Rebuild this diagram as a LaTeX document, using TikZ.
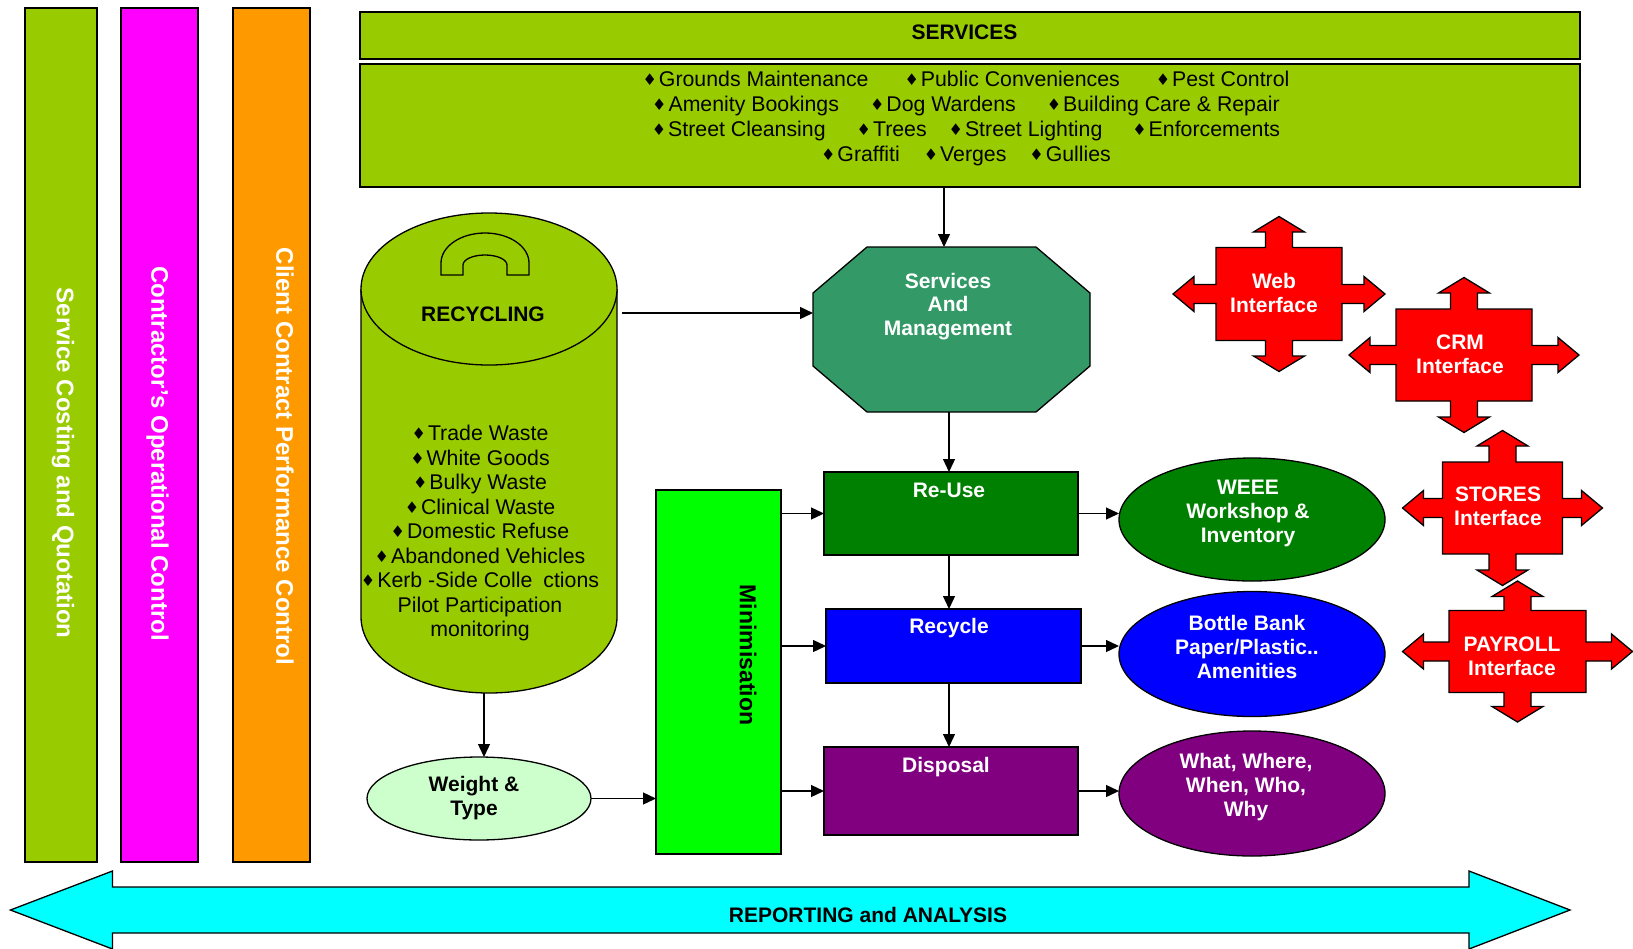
\documentclass[tikz,border=0pt]{standalone}
\usepackage{fontspec}
\setmainfont{Liberation Sans}
\newfontfamily\symfont{DejaVu Sans}
\usetikzlibrary{arrows.meta,calc,shapes.geometric}
\definecolor{cOlive}{HTML}{99CC00}
\definecolor{cMag}{HTML}{FF00FF}
\definecolor{cOrange}{HTML}{FF9900}
\definecolor{cSea}{HTML}{339966}
\definecolor{cGreen}{HTML}{008000}
\definecolor{cBlue}{HTML}{0000FF}
\definecolor{cPurple}{HTML}{800080}
\definecolor{cLime}{HTML}{00FF00}
\definecolor{cPale}{HTML}{CCFFCC}
\definecolor{cRed}{HTML}{FF0000}
\definecolor{cCyan}{HTML}{00FFFF}
\newcommand\bu{\raisebox{1pt}{\symfont\fontsize{16}{16}\selectfont ♦}\hspace{2pt}}
\newcommand\redcross[6]{%
  \filldraw[fill=cRed, line width=1.3pt, shift={(#1,#2)}]
  (0,#6) -- (25.5,#6-15.5) -- (13.5,#6-15.5) -- (13.5,#4) -- (#3,#4) -- (#3,9.5) -- (#5-21,9.5) -- (#5-21,17.5) -- (#5,0) -- (#5-21,-17.5) -- (#5-21,-9.5) -- (#3,-9.5) -- (#3,-#4) -- (13.5,-#4) -- (13.5,-#6+15.5) -- (25.5,-#6+15.5) -- (0,-#6) -- (-25.5,-#6+15.5) -- (-13.5,-#6+15.5) -- (-13.5,-#4) -- (-#3,-#4) -- (-#3,-9.5) -- (-#5+21,-9.5) -- (-#5+21,-17.5) -- (-#5,0) -- (-#5+21,17.5) -- (-#5+21,9.5) -- (-#3,9.5) -- (-#3,#4) -- (-13.5,#4) -- (-13.5,#6-15.5) -- (-25.5,#6-15.5) -- cycle;}

\begin{document}
\begin{tikzpicture}[x=1pt,y=1pt,
  lw/.style={line width=1.3pt, draw=black},
  boxn/.style={lw, rectangle, inner sep=0pt, outer sep=0pt},
  ghost/.style={rectangle, inner sep=0pt, outer sep=0pt},
  ell/.style={lw, ellipse, inner sep=0pt, outer sep=0pt},
  arr/.style={line width=1.3pt, -{Triangle[length=13pt,width=12pt]}},
  txt/.style={inner sep=0pt, align=center, font=\fontsize{21.3}{25.3}\selectfont},
  txtb/.style={inner sep=0pt, align=center, font=\bfseries\fontsize{21}{24}\selectfont},
  txtw/.style={txtb, text=white},
  bartxt/.style={inner sep=0pt, font=\bfseries\fontsize{24}{28}\selectfont, text=white, rotate=-90},
]
\useasboundingbox (0,0) rectangle (1633,-948);
\clip (0,0) rectangle (1633,-948);

% side bars
\node[boxn, fill=cOlive, minimum width=72, minimum height=854] (barA) at (61,-435) {};
\node[boxn, fill=cMag, minimum width=77, minimum height=854] (barB) at (159.5,-435) {};
\node[boxn, fill=cOrange, minimum width=77, minimum height=854] (barC) at (271.5,-435) {};
\node[bartxt] (barAt) at (63,-463) {Service Costing and Quotation};
\node[bartxt] (barBt) at (157.5,-453.5) {Contractor’s Operational Control};
\node[bartxt] (barCt) at (285,-456.5) {Client Contract Performance Control};

% services
\node[boxn, fill=cOlive, minimum width=1220, minimum height=47] (svc) at (970,-35.5) {};
\node[txtb] (svct) at (964.5,-32) {SERVICES};
\node[boxn, fill=cOlive, minimum width=1220, minimum height=123] (svclist) at (970,-125.5) {};
\node[txt] (svcitems) at (966,-118.5) {%
\bu Grounds Maintenance\hspace{36pt}\bu Public Conveniences\hspace{36pt}\bu Pest Control\\
\bu Amenity Bookings\hspace{31pt}\bu Dog Wardens\hspace{31pt}\bu Building Care \& Repair\\
\bu Street Cleansing\hspace{31pt}\bu Trees\hspace{22pt}\bu Street Lighting\hspace{30pt}\bu Enforcements\\
\bu Graffiti\hspace{24pt}\bu Verges\hspace{23pt}\bu Gullies};

% recycling cylinder
\node[ghost, minimum width=256, minimum height=480] (recyc) at (489,-453) {};
\fill[cOlive] (361,-289) -- (361,-617) arc[start angle=180,end angle=360,x radius=128,y radius=76] -- (617,-289) -- cycle;
\draw[lw] (361,-289) -- (361,-617) arc[start angle=180,end angle=360,x radius=128,y radius=76] -- (617,-289);
\filldraw[fill=cOlive, lw] (489,-289) ellipse [x radius=128, y radius=76];
\draw[lw] (441,-275) -- (441,-263) arc[start angle=180,end angle=0,x radius=44,y radius=30] -- (529,-275) -- (507,-275) -- (507,-265) arc[start angle=0,end angle=180,x radius=22,y radius=10] -- (463,-275) -- cycle;
\node[txtb] (recyct) at (483,-314) {RECYCLING};
\node[txt, font=\fontsize{21.3}{24.5}\selectfont] (recycl) at (480,-533) {%
\bu Trade Waste\\ \bu White Goods\\ \bu Bulky Waste\\ \bu Clinical Waste\\ \bu Domestic Refuse\\ \bu Abandoned Vehicles\\ \bu Kerb -Side Colle\hspace{11pt}ctions\\ Pilot Participation\\ monitoring};

% octagon
\node[ghost, minimum width=277, minimum height=165] (sam) at (951.5,-329.5) {};
\filldraw[fill=cSea, lw] ($(sam.north west)+(54,0)$) -- ($(sam.north east)+(-54,0)$) -- ($(sam.north east)+(0,-46)$) -- ($(sam.south east)+(0,46)$) -- ($(sam.south east)+(-54,0)$) -- ($(sam.south west)+(54,0)$) -- ($(sam.south west)+(0,46)$) -- ($(sam.north west)+(0,-46)$) -- cycle;
\node[txtw, font=\bfseries\fontsize{21}{23.5}\selectfont] (samt) at (948,-306.5) {Services\\And\\Management};

% weight & type
\node[ell, fill=cPale, minimum width=224, minimum height=83] (weight) at (479,-798.5) {};
\node[txtb] (weightt) at (474,-798) {Weight \&\\Type};

% minimisation
\node[boxn, fill=cLime, minimum width=125, minimum height=364] (mini) at (718.5,-672) {};
\node[txtb, font=\bfseries\fontsize{23}{26}\selectfont, rotate=-90] (minit) at (748,-655) {Minimisation};

% process boxes
\node[boxn, fill=cGreen, minimum width=254, minimum height=83] (reuse) at (951,-513.5) {};
\node[txtw] (reuset) at (949,-490) {Re-Use};
\node[boxn, fill=cBlue, minimum width=255, minimum height=74] (rcy) at (953.5,-646) {};
\node[txtw] (rcyt) at (949,-628) {Recycle};
\node[boxn, fill=cPurple, minimum width=254, minimum height=88] (disp) at (951,-791) {};
\node[txtw] (dispt) at (946,-767) {Disposal};

% ellipses
\node[ell, fill=cGreen, minimum width=266, minimum height=123] (weee) at (1252,-519.5) {};
\node[txtw] (weeet) at (1248,-513.5) {WEEE\\Workshop \&\\Inventory};
\node[ell, fill=cBlue, minimum width=266, minimum height=125] (bottle) at (1252,-654) {};
\node[txtw] (bottlet) at (1247,-646.5) {Bottle Bank\\Paper/Plastic..\\Amenities};
\node[ell, fill=cPurple, minimum width=266, minimum height=125] (what) at (1252,-793.5) {};
\node[txtw] (whatt) at (1246,-787) {What, Where,\\When, Who,\\Why};

% interface crosses
\redcross{1279}{-294}{63}{46.5}{106}{77.5}
\node[txtw] (web) at (1274,-293) {Web\\Interface};
\redcross{1464}{-355}{68}{46}{115}{77.5}
\node[txtw] (crm) at (1460,-354.5) {CRM\\Interface};
\redcross{1502.5}{-508}{60}{46}{100}{77.5}
\node[txtw] (stores) at (1498,-506.5) {STORES\\Interface};
\redcross{1517.5}{-651.5}{68.5}{41}{115}{70.5}
\node[txtw] (payroll) at (1512,-656) {PAYROLL\\Interface};

% reporting arrow
\filldraw[fill=cCyan, lw] (10.4,-910) -- (112.5,-871) -- (112.5,-887) -- (1469,-887) -- (1469,-871) -- (1570,-910) -- (1469,-949) -- (1469,-933) -- (112.5,-933) -- (112.5,-949) -- cycle;
\node[txtb] (rep) at (868,-914.5) {REPORTING and ANALYSIS};

% connectors
\coordinate (sdn) at (944,0);
\coordinate (cylout) at (622,-313);
\coordinate (vx) at (949,0);
\coordinate (cx) at (484,0);
\draw[arr] (svclist.south -| sdn) -- (sam.north -| sdn);
\draw[arr] (cylout) -- (cylout -| sam.west);
\draw[arr] (sam.south -| vx) -- (reuse.north -| vx);
\draw[arr] (reuse.south -| vx) -- (rcy.north -| vx);
\draw[arr] (rcy.south -| vx) -- (disp.north -| vx);
\draw[arr] (recyc.south -| cx) -- (weight.north -| cx);
\draw[arr] (weight.east) -- (weight.east -| mini.west);
\draw[arr] (mini.east |- reuse.west) -- (reuse.west);
\draw[arr] (mini.east |- rcy.west) -- (rcy.west);
\draw[arr] (mini.east |- disp.west) -- (disp.west);
\draw[arr] (reuse.east) -- (reuse.east -| weee.west);
\draw[arr] (rcy.east) -- (rcy.east -| bottle.west);
\draw[arr] (disp.east) -- (disp.east -| what.west);
\end{tikzpicture}
\end{document}
